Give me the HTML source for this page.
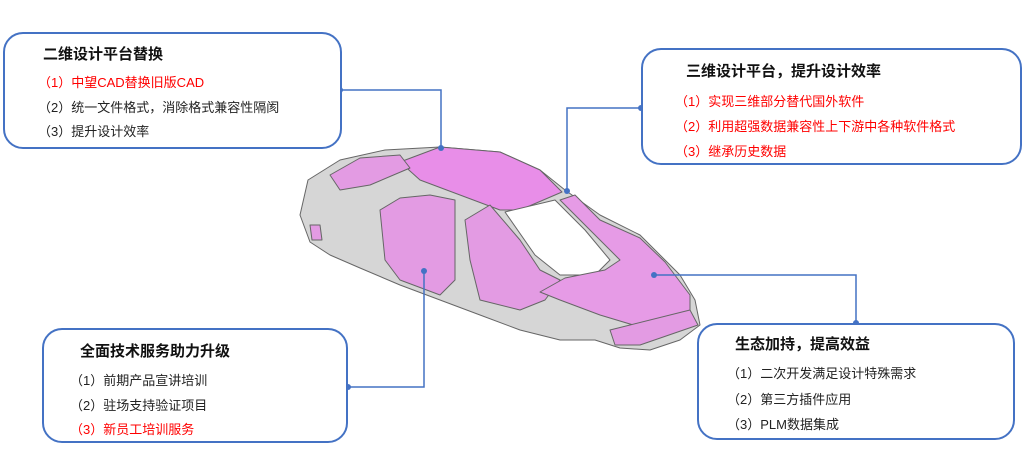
<!DOCTYPE html>
<html><head><meta charset="utf-8">
<style>
body{margin:0;width:1024px;height:471px;background:#fff;position:relative;overflow:hidden;font-family:"Liberation Sans","Noto Sans CJK SC",sans-serif;}
.box{position:absolute;border:2px solid #4472c4;border-radius:20px;box-sizing:border-box;background:#fff;}
.t{position:absolute;font-size:15px;font-weight:bold;color:#111;white-space:nowrap;line-height:18px;}
.l{position:absolute;font-size:13px;color:#222;white-space:nowrap;line-height:16px;}
.r{color:#f00;}
svg{position:absolute;left:0;top:0;}
</style></head><body>
<svg width="1024" height="471">
<g stroke="#666" stroke-width="1" stroke-linejoin="round">
<!-- overall body -->
<polygon points="308,180 340,160 385,150 440,147 500,152 540,170 565,190 600,215 640,235 660,255 680,275 695,300 700,325 680,340 650,350 620,348 595,340 560,340 520,330 480,315 440,300 400,285 360,268 330,255 310,242 300,215" fill="#d6d6d6"/>
<!-- roof -->
<polygon points="400,162 440,147 500,152 540,170 562,192 520,210 500,210 460,195 420,180" fill="#e88ee8"/>
<!-- rear deck -->
<polygon points="330,175 360,158 400,155 410,168 370,185 340,190" fill="#e39be3"/>
<!-- rear door opening -->
<polygon points="380,210 400,198 430,195 455,200 455,280 440,295 400,280 385,260" fill="#e39be3"/>
<!-- front door opening -->
<polygon points="465,220 490,205 520,240 540,270 560,280 545,300 520,310 480,300 470,260" fill="#e39be3"/>
<!-- windshield -->
<polygon points="505,212 555,200 585,230 610,260 595,275 560,275 535,255" fill="#fff"/>
<!-- engine bay/front -->
<polygon points="560,200 575,195 600,220 640,238 665,262 690,295 690,320 650,330 600,315 560,300 540,292 565,278 605,270 620,260" fill="#e69be6"/>
<!-- bumper -->
<polygon points="610,330 690,310 698,325 640,345 615,345" fill="#e39be3"/>
<!-- rear side lamp -->
<polygon points="310,225 320,225 322,240 312,240" fill="#e39be3"/>
</g>
<g stroke="#4472c4" stroke-width="1.5" fill="none">
<polyline points="340,90 441,90 441,148"/>
<polyline points="641,108 567,108 567,191"/>
<polyline points="424,271 424,387 348,387"/>
<polyline points="654,275 856,275 856,323"/>
</g>
<g fill="#4472c4">
<circle cx="340" cy="90" r="3"/><circle cx="441" cy="148" r="3"/>
<circle cx="641" cy="108" r="3"/><circle cx="567" cy="191" r="3"/>
<circle cx="424" cy="271" r="3"/><circle cx="348" cy="387" r="3"/>
<circle cx="654" cy="275" r="3"/><circle cx="856" cy="323" r="3"/>
</g>
</svg>

<div class="box" style="left:3px;top:32px;width:339px;height:117px;"></div>
<div class="t" style="left:43px;top:46px;">二维设计平台替换</div>
<div class="l r" style="left:38px;top:75px;">（1）中望CAD替换旧版CAD</div>
<div class="l" style="left:38px;top:100px;">（2）统一文件格式，消除格式兼容性隔阂</div>
<div class="l" style="left:38px;top:124px;">（3）提升设计效率</div>

<div class="box" style="left:641px;top:48px;width:381px;height:117px;"></div>
<div class="t" style="left:686px;top:63px;">三维设计平台，提升设计效率</div>
<div class="l r" style="left:675px;top:94px;">（1）实现三维部分替代国外软件</div>
<div class="l r" style="left:675px;top:119px;">（2）利用超强数据兼容性上下游中各种软件格式</div>
<div class="l r" style="left:675px;top:144px;">（3）继承历史数据</div>

<div class="box" style="left:42px;top:328px;width:306px;height:115px;"></div>
<div class="t" style="left:80px;top:343px;">全面技术服务助力升级</div>
<div class="l" style="left:70px;top:373px;">（1）前期产品宣讲培训</div>
<div class="l" style="left:70px;top:398px;">（2）驻场支持验证项目</div>
<div class="l r" style="left:70px;top:422px;">（3）新员工培训服务</div>

<div class="box" style="left:697px;top:323px;width:318px;height:117px;"></div>
<div class="t" style="left:735px;top:336px;">生态加持，提高效益</div>
<div class="l" style="left:727px;top:366px;">（1）二次开发满足设计特殊需求</div>
<div class="l" style="left:727px;top:392px;">（2）第三方插件应用</div>
<div class="l" style="left:727px;top:417px;">（3）PLM数据集成</div>
</body></html>
